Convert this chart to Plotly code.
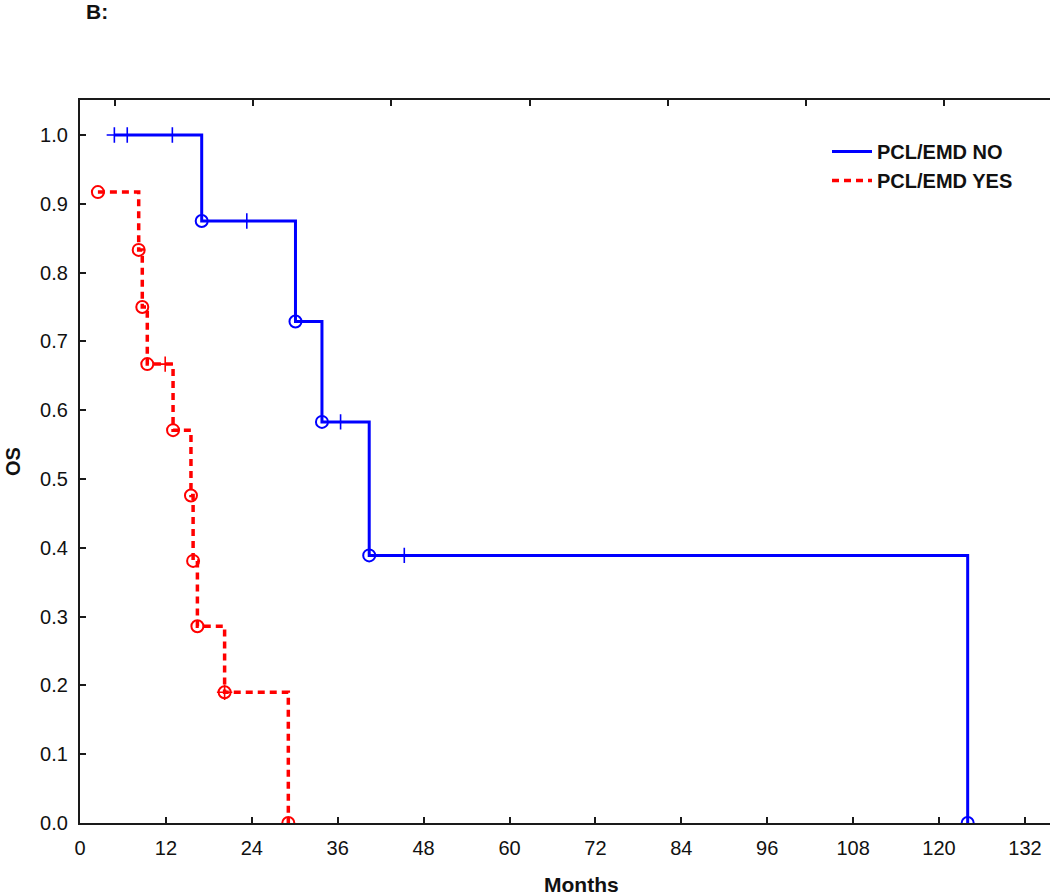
import plotly.graph_objects as go

# ---- data (months, survival) ----
NO_TIMES = [4.8, 17.0, 30.1, 33.8, 40.4, 124.0]
NO_SURV = [1.0, 0.875, 0.729, 0.583, 0.389, 0.0]
NO_CENS_T = [4.8, 6.6, 12.9, 23.3, 36.4, 45.3]
NO_CENS_S = [1.0, 1.0, 1.0, 0.875, 0.583, 0.389]

YES_TIMES = [2.5, 8.2, 8.7, 9.4, 13.0, 15.5, 15.8, 16.4, 20.2, 29.1]
YES_SURV = [0.917, 0.833, 0.75, 0.667, 0.571, 0.476, 0.381, 0.286, 0.190, 0.0]
YES_CENS_T = [11.9, 20.2]
YES_CENS_S = [0.667, 0.190]

X_TICKS = [0, 12, 24, 36, 48, 60, 72, 84, 96, 108, 120, 132]
Y_TICKS = [0.0, 0.1, 0.2, 0.3, 0.4, 0.5, 0.6, 0.7, 0.8, 0.9, 1.0]
TOP_TICKS = [4.9, 24.2, 43.5, 62.8, 82.1, 101.4, 120.7]

LABEL_NO = "PCL/EMD NO"
LABEL_YES = "PCL/EMD YES"

BLUE = "#0000ff"
RED = "#ff0000"
FONT = "Liberation Sans, Arial, sans-serif"

W, H = 1050, 896
PL, PT, PB, PR = 80, 100, 823, 1050  # plot area in page pixels
ML, MT, MB, MR = PL, PT, H - PB, W - PR
PW, PH = PR - PL, PB - PT
XR = [0, 135.5]
YR = [0, 1.0509]


def px_x(p):
    return (p - PL) / PW


def px_y(p):
    return (PB - p) / PH


fig = go.Figure()

# blue (NO)
fig.add_trace(go.Scatter(x=NO_TIMES, y=NO_SURV, mode="lines", line_shape="hv",
                         line=dict(color=BLUE, width=3), name=LABEL_NO))
fig.add_trace(go.Scatter(x=NO_TIMES[1:], y=NO_SURV[1:], mode="markers",
                         marker=dict(symbol="circle-open", size=12, color=BLUE,
                                     line=dict(width=2, color=BLUE)),
                         showlegend=False))
fig.add_trace(go.Scatter(x=NO_CENS_T, y=NO_CENS_S, mode="markers",
                         marker=dict(symbol="cross-thin-open", size=11, color=BLUE,
                                     line=dict(width=1.6, color=BLUE)),
                         showlegend=False))

# red (YES)
fig.add_trace(go.Scatter(x=YES_TIMES, y=YES_SURV, mode="lines", line_shape="hv",
                         line=dict(color=RED, width=3.5, dash="7px,5px"), name=LABEL_YES))
fig.add_trace(go.Scatter(x=YES_TIMES, y=YES_SURV, mode="markers",
                         marker=dict(symbol="circle-open", size=12, color=RED,
                                     line=dict(width=2, color=RED)),
                         showlegend=False))
fig.add_trace(go.Scatter(x=YES_CENS_T, y=YES_CENS_S, mode="markers",
                         marker=dict(symbol="cross-thin-open", size=11, color=RED,
                                     line=dict(width=1.6, color=RED)),
                         showlegend=False))

# empty trace to activate the top (frame) axis
fig.add_trace(go.Scatter(x=[None], y=[None], xaxis="x2", yaxis="y2",
                         showlegend=False, hoverinfo="skip"))

axis_line = dict(showline=True, linewidth=2.2, linecolor="#1a1a1a", showgrid=False,
                 zeroline=False, ticks="inside", ticklen=6, tickwidth=1.5,
                 tickcolor="#1a1a1a")

fig.update_layout(
    width=W, height=H,
    margin=dict(l=ML, r=MR, t=MT, b=MB, pad=0),
    paper_bgcolor="white", plot_bgcolor="white",
    font=dict(family=FONT, size=20, color="#111111"),
    xaxis=dict(range=XR, tickvals=X_TICKS, ticktext=[str(v) for v in X_TICKS],
               tickfont=dict(size=20), ticklabelstandoff=6, **axis_line),
    xaxis2=dict(range=XR, overlaying="x", side="top", anchor="y2", tickvals=TOP_TICKS,
                showticklabels=False, **axis_line),
    yaxis=dict(range=YR, tickvals=Y_TICKS, ticktext=[f"{v:.1f}" for v in Y_TICKS],
               tickfont=dict(size=20), ticklabelstandoff=6, mirror=False, **axis_line),
    yaxis2=dict(range=YR, overlaying="y", anchor="x2", visible=False, showline=False,
                showgrid=False, zeroline=False),
    showlegend=True,
    legend=dict(x=px_x(827), y=px_y(132), xanchor="left", yanchor="top",
                bgcolor="rgba(0,0,0,0)", font=dict(size=20, weight="bold"),
                tracegroupgap=0, itemwidth=40),
    annotations=[
        dict(text="<b>B:</b>", xref="paper", yref="paper", x=px_x(84), y=px_y(11),
             xanchor="left", yanchor="middle", showarrow=False, font=dict(size=21)),
        dict(text="<b>Months</b>", xref="paper", yref="paper", x=px_x(581), y=px_y(885),
             xanchor="center", yanchor="middle", showarrow=False, font=dict(size=21)),
        dict(text="<b>OS</b>", xref="paper", yref="paper", x=px_x(13), y=px_y(462),
             xanchor="center", yanchor="middle", showarrow=False, textangle=-90,
             font=dict(size=20)),
    ],
)

fig.write_html("out.html", config={"displayModeBar": False},
               post_script="document.body.style.margin='0';")
